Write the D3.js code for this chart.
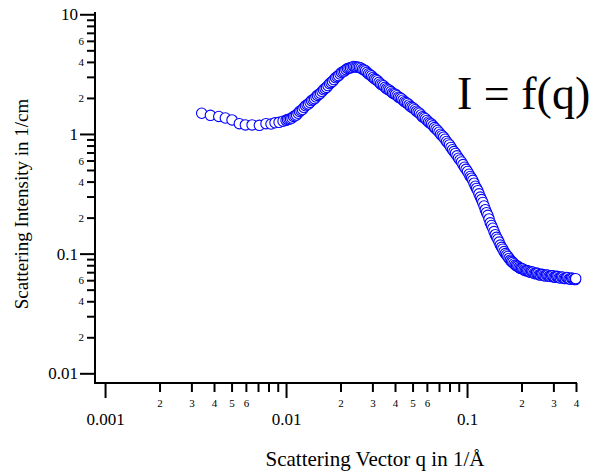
<!DOCTYPE html>
<html>
<head>
<meta charset="utf-8">
<script src="https://cdn.jsdelivr.net/npm/d3@7"></script>
<style>
  html, body { margin: 0; padding: 0; background: #fff; }
  svg { display: block; font-family: "Liberation Serif", "Times New Roman", Times, serif; }
</style>
</head>
<body>
<script>
// Scattering vector q (1/Å)
const qValues = [
  0.00342, 0.00382, 0.00425, 0.00462, 0.00503, 0.00552, 0.00596, 0.00649, 0.00712, 0.00775,
  0.00826, 0.00869, 0.00915, 0.00963, 0.0100, 0.01019, 0.01039, 0.01059, 0.01079, 0.01100,
  0.01121, 0.01143, 0.01165, 0.01187, 0.01210, 0.01233, 0.01257, 0.01281, 0.01306, 0.01331,
  0.01357, 0.01383, 0.01410, 0.01437, 0.01464, 0.01492, 0.01521, 0.01550, 0.01581, 0.01611,
  0.01642, 0.01674, 0.01706, 0.01739, 0.01772, 0.01806, 0.01841, 0.01876, 0.01913, 0.01950,
  0.01987, 0.02025, 0.02065, 0.02105, 0.02145, 0.02186, 0.02228, 0.02271, 0.02315, 0.02360,
  0.02405, 0.02451, 0.02499, 0.02547, 0.02596, 0.02646, 0.02697, 0.02749, 0.02802, 0.02856,
  0.02911, 0.02967, 0.03024, 0.03082, 0.03141, 0.03201, 0.03264, 0.03327, 0.03390, 0.03455,
  0.03522, 0.03590, 0.03659, 0.03729, 0.03802, 0.03875, 0.03950, 0.04026, 0.04103, 0.04182,
  0.04263, 0.04345, 0.04429, 0.04514, 0.04601, 0.04690, 0.04780, 0.04872, 0.04966, 0.05062,
  0.05159, 0.05258, 0.05360, 0.05463, 0.05568, 0.05675, 0.05785, 0.05896, 0.06010, 0.06126,
  0.06243, 0.06363, 0.06486, 0.06611, 0.06739, 0.06869, 0.07001, 0.07136, 0.07273, 0.07413,
  0.07556, 0.07702, 0.07850, 0.08001, 0.08155, 0.08312, 0.08472, 0.08635, 0.08802, 0.08972,
  0.09144, 0.09320, 0.09500, 0.09683, 0.09874, 0.1006, 0.1026, 0.1042, 0.1059, 0.1076,
  0.1093, 0.1111, 0.1129, 0.1147, 0.1165, 0.1184, 0.1203, 0.1222, 0.1242, 0.1262,
  0.1282, 0.1303, 0.1323, 0.1344, 0.1366, 0.1388, 0.1410, 0.1433, 0.1456, 0.1479,
  0.1503, 0.1527, 0.1551, 0.1576, 0.1602, 0.1628, 0.1653, 0.1680, 0.1707, 0.1734,
  0.1762, 0.1790, 0.1819, 0.1848, 0.1878, 0.1908, 0.1938, 0.1969, 0.2001, 0.2033,
  0.2066, 0.2099, 0.2132, 0.2166, 0.2201, 0.2236, 0.2273, 0.2309, 0.2346, 0.2384,
  0.2422, 0.2461, 0.2500, 0.2540, 0.2581, 0.2622, 0.2664, 0.2707, 0.2750, 0.2794,
  0.2839, 0.2885, 0.2931, 0.2978, 0.3026, 0.3074, 0.3124, 0.3174, 0.3225, 0.3277,
  0.3329, 0.3382, 0.3437, 0.3492, 0.3548, 0.3605, 0.3662, 0.3721, 0.3781, 0.3842,
  0.3903, 0.3966, 0.3985
];

// Scattering intensity I (1/cm)
const intensityValues = [
  1.49, 1.43, 1.40, 1.36, 1.31, 1.22, 1.19, 1.19, 1.18, 1.22,
  1.21, 1.24, 1.25, 1.28, 1.30, 1.32, 1.33, 1.34, 1.36, 1.40,
  1.42, 1.44, 1.49, 1.54, 1.57, 1.60, 1.663, 1.72, 1.755, 1.78,
  1.837, 1.90, 1.931, 1.97, 2.034, 2.10, 2.142, 2.19, 2.261, 2.34,
  2.394, 2.45, 2.536, 2.63, 2.686, 2.75, 2.846, 2.95, 3.009, 3.07,
  3.169, 3.26, 3.311, 3.36, 3.447, 3.52, 3.548, 3.57, 3.617, 3.66,
  3.645, 3.62, 3.617, 3.60, 3.548, 3.47, 3.428, 3.37, 3.273, 3.18,
  3.126, 3.06, 2.968, 2.89, 2.846, 2.79, 2.702, 2.62, 2.570, 2.53,
  2.455, 2.39, 2.353, 2.32, 2.261, 2.20, 2.171, 2.14, 2.085, 2.03,
  2.003, 1.97, 1.917, 1.86, 1.830, 1.80, 1.748, 1.70, 1.669, 1.64,
  1.594, 1.55, 1.519, 1.49, 1.440, 1.39, 1.367, 1.34, 1.298, 1.26,
  1.233, 1.21, 1.170, 1.13, 1.101, 1.07, 1.033, 0.995, 0.968, 0.94,
  0.903, 0.865, 0.837, 0.81, 0.772, 0.738, 0.712, 0.688, 0.657, 0.628,
  0.606, 0.583, 0.555, 0.527, 0.506, 0.486, 0.461, 0.441, 0.427, 0.410,
  0.388, 0.366, 0.351, 0.336, 0.316, 0.297, 0.283, 0.268, 0.250, 0.233,
  0.220, 0.209, 0.195, 0.181, 0.172, 0.163, 0.153, 0.144, 0.137, 0.132,
  0.125, 0.118, 0.113, 0.109, 0.104, 0.1002, 0.0975, 0.0948, 0.0912, 0.0882,
  0.0861, 0.0846, 0.0824, 0.0803, 0.0791, 0.0784, 0.0767, 0.0754, 0.0750, 0.0745,
  0.0731, 0.0721, 0.0720, 0.0718, 0.0709, 0.0698, 0.0705, 0.0699, 0.0682, 0.0679,
  0.0688, 0.0683, 0.0666, 0.0662, 0.0672, 0.0669, 0.0655, 0.0651, 0.0664, 0.0660,
  0.0646, 0.0644, 0.0655, 0.0652, 0.0637, 0.0634, 0.0646, 0.0643, 0.0629, 0.0626,
  0.0638, 0.0636, 0.0621, 0.0619, 0.0632, 0.0630, 0.0614, 0.0612, 0.0625, 0.0621,
  0.0609, 0.0607, 0.0618
];

// Axis ticks and their labels
const xMajorTicks = [0.001, 0.01, 0.1];
const xMajorLabels = ["0.001", "0.01", "0.1"];
const xMinorTicks = [0.002, 0.003, 0.004, 0.005, 0.006, 0.007, 0.008, 0.009,
                     0.02, 0.03, 0.04, 0.05, 0.06, 0.07, 0.08, 0.09,
                     0.2, 0.3, 0.4];
const xMinorLabels = ["2", "3", "4", "5", "6", "", "", "",
                      "2", "3", "4", "5", "6", "", "", "",
                      "2", "3", "4"];

const yMajorTicks = [0.01, 0.1, 1, 10];
const yMajorLabels = ["0.01", "0.1", "1", "10"];
const yMinorTicks = [0.02, 0.03, 0.04, 0.05, 0.06, 0.07, 0.08, 0.09,
                     0.2, 0.3, 0.4, 0.5, 0.6, 0.7, 0.8, 0.9,
                     2, 3, 4, 5, 6, 7, 8, 9];
const yMinorLabels = ["2", "", "4", "", "6", "", "", "",
                      "2", "", "4", "", "6", "", "", "",
                      "2", "", "4", "", "6", "", "", ""];

const width = 593, height = 474;

const svg = d3.select("body").append("svg")
  .attr("width", width)
  .attr("height", height);

svg.append("rect").attr("width", width).attr("height", height).attr("fill", "#fff");

const x = d3.scaleLog().domain([0.00088, 0.4]).range([95, 576]);
const y = d3.scaleLog().domain([0.0083, 10.25]).range([383, 13]);

const axisBottomY = 383;
const axisLeftX = 95;

// ---- x axis ----
const gxMinor = svg.append("g")
  .attr("transform", `translate(0,${axisBottomY})`)
  .call(d3.axisBottom(x).tickValues(xMinorTicks).tickSize(9).tickSizeOuter(0)
        .tickFormat((d, i) => xMinorLabels[i]));
gxMinor.select(".domain").remove();
gxMinor.selectAll("text")
  .attr("y", 24).attr("dy", null)
  .attr("font-size", 11).attr("font-family", "Liberation Serif, serif");

const gxMajor = svg.append("g")
  .attr("transform", `translate(0,${axisBottomY})`)
  .call(d3.axisBottom(x).tickValues(xMajorTicks).tickSize(15).tickSizeOuter(0)
        .tickFormat((d, i) => xMajorLabels[i]));
gxMajor.select(".domain").remove();
gxMajor.selectAll("text")
  .attr("y", 42).attr("dy", null)
  .attr("font-size", 17).attr("font-family", "Liberation Serif, serif");

// ---- y axis ----
const gyMinor = svg.append("g")
  .attr("transform", `translate(${axisLeftX},0)`)
  .call(d3.axisLeft(y).tickValues(yMinorTicks).tickSize(8).tickSizeOuter(0)
        .tickPadding(3).tickFormat((d, i) => yMinorLabels[i]));
gyMinor.select(".domain").remove();
gyMinor.selectAll("text")
  .attr("font-size", 11).attr("font-family", "Liberation Serif, serif");

const gyMajor = svg.append("g")
  .attr("transform", `translate(${axisLeftX},0)`)
  .call(d3.axisLeft(y).tickValues(yMajorTicks).tickSize(15).tickSizeOuter(0)
        .tickPadding(2).tickFormat((d, i) => yMajorLabels[i]));
gyMajor.select(".domain").remove();
gyMajor.selectAll("text")
  .attr("font-size", 17).attr("font-family", "Liberation Serif, serif");

svg.selectAll(".tick line").attr("stroke", "#000").attr("stroke-width", 2);
svg.selectAll(".tick text").attr("fill", "#000");

// axis frame lines (left and bottom)
const [x0, x1] = x.range();
const [yb, yt] = y.range();
svg.append("path")
  .attr("d", `M${axisLeftX},${yt}V${yb}H${x1}`)
  .attr("fill", "none")
  .attr("stroke", "#000")
  .attr("stroke-width", 2)
  .attr("stroke-linecap", "square");

// ---- data points: open circles, drawn in order of increasing q ----
const points = qValues.map((q, i) => ({ q, I: intensityValues[i] }));
svg.append("g")
  .selectAll("circle")
  .data(points)
  .join("circle")
  .attr("cx", d => x(d.q))
  .attr("cy", d => y(d.I))
  .attr("r", 5.2)
  .attr("fill", "#fff")
  .attr("stroke", "#0000ff")
  .attr("stroke-width", 1.1);

// ---- titles ----
svg.append("text")
  .attr("x", 375).attr("y", 466)
  .attr("text-anchor", "middle")
  .attr("font-size", 21)
  .attr("fill", "#000")
  .text("Scattering Vector q in 1/Å");

svg.append("text")
  .attr("transform", "translate(28,204) rotate(-90)")
  .attr("text-anchor", "middle")
  .attr("font-size", 19)
  .attr("fill", "#000")
  .text("Scattering Intensity in 1/cm");

svg.append("text")
  .attr("x", 457).attr("y", 109)
  .attr("font-size", 46)
  .attr("fill", "#000")
  .text("I = f(q)");
</script>
</body>
</html>
